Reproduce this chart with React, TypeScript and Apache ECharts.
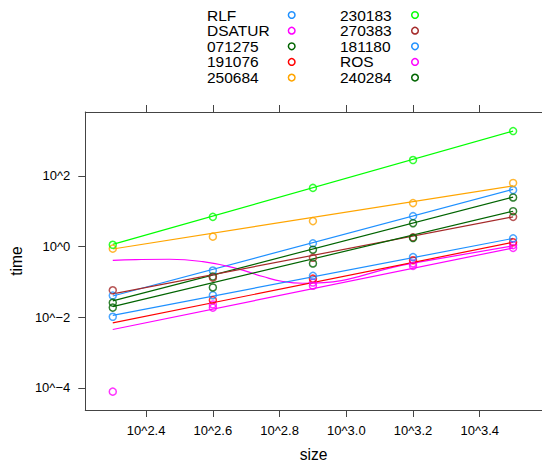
import React, { useEffect, useRef } from "react";
import * as echarts from "echarts";

// log10(size) positions of the measurements
const sizes = [2.3, 2.6, 2.9, 3.2, 3.5];
const fitEnds = [2.3, 3.5];

const groups = ["RLF", "DSATUR", "071275", "191076", "250684", "230183", "270383", "181180", "ROS", "240284"];
const colors = ["#1E90FF", "#FF00FF", "#006400", "#FF0000", "#FFA500", "#00FF00", "#A52A2A", "#1E90FF", "#FF00FF", "#006400"];

// log10(time) at each size (null = not drawn)
const ptsRLF = [-1.39, -0.68, 0.09, 0.86, 1.6];
const ptsDSATUR = [-4.11, -1.64, -1.02, -0.48, 0.04];
const pts071275 = [-1.59, -0.85, -0.09, 0.66, 1.39];
const pts191076 = [null, -1.52, -0.91, -0.39, 0.12];
const pts250684 = [-0.06, 0.28, 0.72, 1.23, 1.8];
const pts230183 = [0.05, 0.84, 1.66, 2.45, 3.27];
const pts270383 = [-1.24, -0.88, -0.32, 0.26, 0.84];
const pts181180 = [-1.99, -1.38, -0.83, -0.3, 0.23];
const ptsROS = [null, -1.73, -1.11, -0.55, -0.04];
const pts240284 = [-1.73, -1.16, -0.48, 0.24, 1.0];

// fitted line values at fitEnds
const fitRLF = [-1.4, 1.62];
const fit071275 = [-1.54, 1.4];
const fit191076 = [-2.16, 0.12];
const fit250684 = [-0.07, 1.72];
const fit230183 = [0.06, 3.27];
const fit270383 = [-1.34, 0.84];
const fit181180 = [-1.95, 0.23];
const fitROS = [-2.35, -0.04];
const fit240284 = [-1.7, 1.0];

// smooth curve of DSATUR
const curveX = [2.3, 2.37, 2.47, 2.57, 2.67, 2.75, 2.81, 2.87, 3.2, 3.5];
const curveY = [-0.39, -0.37, -0.36, -0.43, -0.62, -0.85, -0.99, -1.04, -0.47, 0.02];

const xTicks = [2.4, 2.6, 2.8, 3.0, 3.2, 3.4];
const yTicks = [-4, -2, 0, 2];

const allPts = [ptsRLF, ptsDSATUR, pts071275, pts191076, pts250684, pts230183, pts270383, pts181180, ptsROS, pts240284];
const allFits = [fitRLF, null, fit071275, fit191076, fit250684, fit230183, fit270383, fit181180, fitROS, fit240284];

const FONT = "Liberation Sans, Arial, Helvetica, sans-serif";

export default function App() {
  const ref = useRef<HTMLDivElement>(null);
  useEffect(() => {
    if (!ref.current) return;
    const chart = echarts.init(ref.current, undefined, { renderer: "svg" });
    const series: any[] = [];
    groups.forEach((g, i) => {
      const col = colors[i];
      const fit = allFits[i];
      const lineData = fit
        ? fitEnds.map((x, k) => [x, fit[k]])
        : curveX.map((x, k) => [x, curveY[k]]);
      series.push({
        type: "line",
        name: g,
        data: lineData,
        showSymbol: false,
        symbol: "none",
        smooth: fit ? false : 0.5,
        lineStyle: { color: col, width: 1.2 },
        silent: true,
        z: 2,
      });
    });
    groups.forEach((g, i) => {
      const col = colors[i];
      const data = sizes
        .map((x, k) => [x, allPts[i][k]])
        .filter((d) => d[1] !== null);
      series.push({
        type: "scatter",
        name: g,
        data,
        symbol: "circle",
        symbolSize: 7,
        itemStyle: { color: "rgba(0,0,0,0)", borderColor: col, borderWidth: 1.5 },
        z: 3,
      });
    });

    const legendGraphics: any[] = [];
    groups.forEach((g, i) => {
      const colIdx = i < 5 ? 0 : 1;
      const row = i % 5;
      const y = 15 + row * 15.65;
      const tx = colIdx === 0 ? 207 : 340;
      const cx = colIdx === 0 ? 291.7 : 415;
      legendGraphics.push({
        type: "text",
        x: tx,
        y,
        style: {
          text: g,
          fontSize: 15.5,
          fontFamily: FONT,
          fill: "#000",
          align: "left",
          verticalAlign: "middle",
        },
      });
      legendGraphics.push({
        type: "circle",
        shape: { cx, cy: y, r: 3.3 },
        style: { fill: "none", stroke: colors[i], lineWidth: 1.5 },
      });
    });

    const axisLineStyle = { color: "#444", width: 1 };
    const xmin = 2.2176;
    const xmax = 3.5866;
    const ymin = -4.63;
    const ymax = 3.81;

    chart.setOption({
      animation: false,
      backgroundColor: "#fff",
      grid: { left: 82, right: 0, top: 112, bottom: 50, containLabel: false },
      xAxis: [
        {
          type: "value",
          position: "bottom",
          min: xmin,
          max: xmax,
          name: "size",
          nameLocation: "middle",
          nameGap: 36,
          nameTextStyle: { fontSize: 15.6, fontFamily: FONT, color: "#000" },
          axisLine: { show: true, onZero: false, lineStyle: axisLineStyle },
          axisTick: { show: true, inside: false, length: 7, customValues: xTicks, lineStyle: axisLineStyle },
          axisLabel: {
            show: true,
            customValues: xTicks,
            margin: 14,
            fontSize: 13,
            fontFamily: FONT,
            color: "#000",
            formatter: (v: number) => "10^" + v.toFixed(1),
          },
          splitLine: { show: false },
        },
        {
          type: "value",
          position: "top",
          min: xmin,
          max: xmax,
          axisLine: { show: true, onZero: false, lineStyle: axisLineStyle },
          axisTick: { show: true, inside: false, length: 7, customValues: xTicks, lineStyle: axisLineStyle },
          axisLabel: { show: false, customValues: xTicks },
          splitLine: { show: false },
        },
      ],
      yAxis: [
        {
          type: "value",
          position: "left",
          min: ymin,
          max: ymax,
          name: "time",
          nameLocation: "middle",
          nameGap: 61,
          nameTextStyle: { fontSize: 15.6, fontFamily: FONT, color: "#000" },
          axisLine: { show: true, onZero: false, lineStyle: axisLineStyle },
          axisTick: { show: true, inside: false, length: 7, customValues: yTicks, lineStyle: axisLineStyle },
          axisLabel: {
            show: true,
            customValues: yTicks,
            margin: 15,
            fontSize: 13,
            fontFamily: FONT,
            color: "#000",
            formatter: (v: number) => "10^" + (v < 0 ? "\u2212" + Math.abs(v) : String(v)),
          },
          splitLine: { show: false },
        },
        {
          type: "value",
          position: "right",
          min: ymin,
          max: ymax,
          axisLine: { show: true, onZero: false, lineStyle: axisLineStyle },
          axisTick: { show: false },
          axisLabel: { show: false },
          splitLine: { show: false },
        },
      ],
      graphic: legendGraphics,
      series,
    });
    return () => chart.dispose();
  }, []);
  return (
    <div
      ref={ref}
      style={{ position: "absolute", left: 0, top: 0, width: 542, height: 467 }}
    />
  );
}
